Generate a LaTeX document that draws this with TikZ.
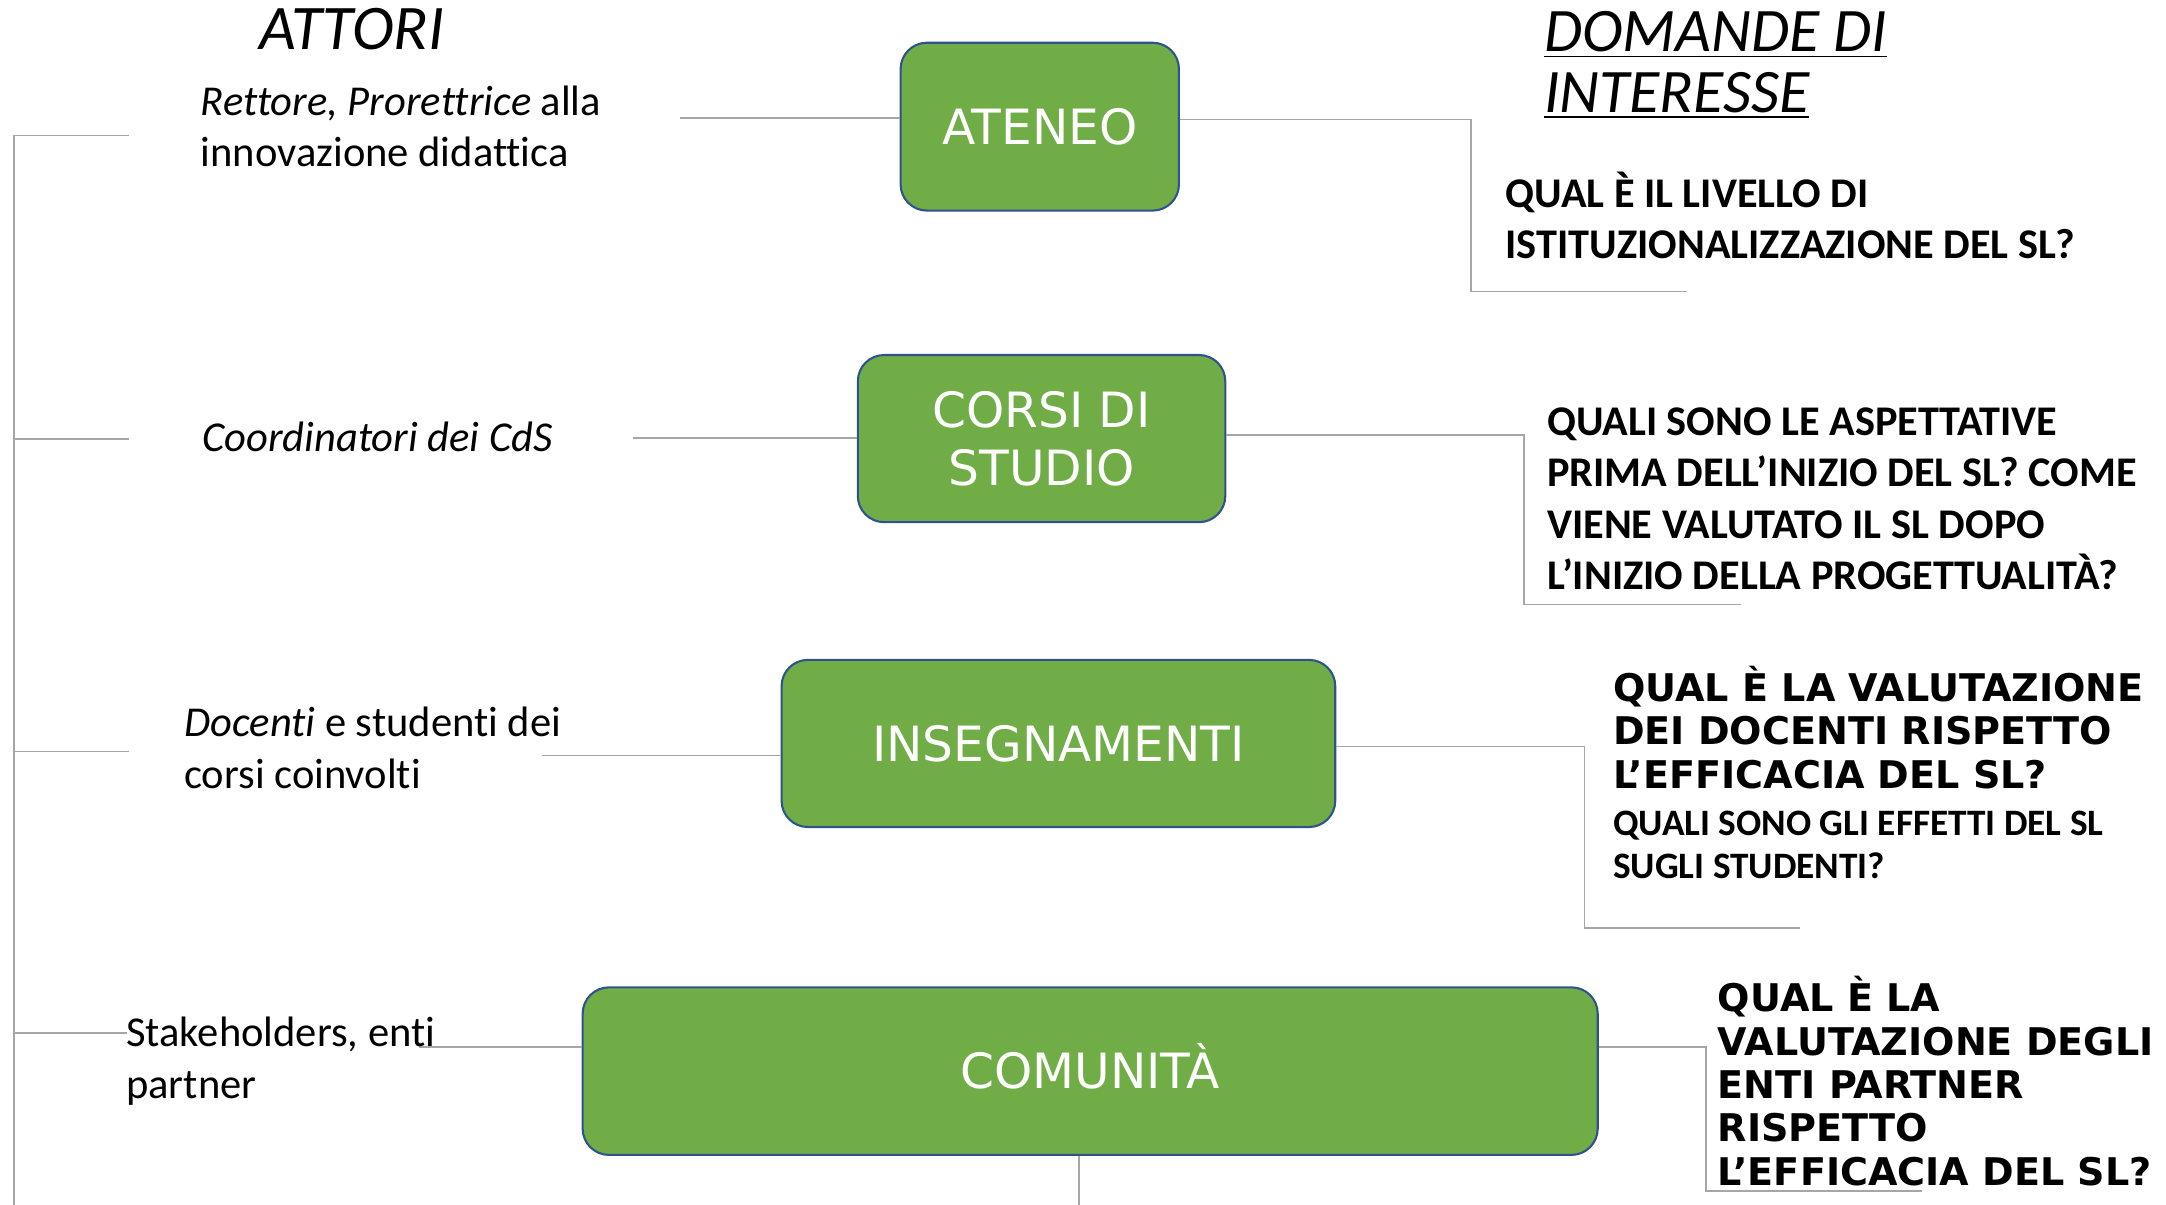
\documentclass[tikz,border=0pt]{standalone}
\usepackage{fontspec}
\setmainfont{Carlito}[Ligatures={NoCommon}]
\newfontfamily\boxfont{DejaVu Sans}
\definecolor{boxgreen}{HTML}{70AD47}
\definecolor{boxblue}{HTML}{2F528F}
\definecolor{linkgray}{HTML}{A6A6A6}
\begin{document}
\begin{tikzpicture}[x=0.5pt,y=-0.5pt,
    tierbox/.style={draw=boxblue,line width=0.75pt,fill=boxgreen,rounded corners=9.5pt,
      inner sep=0pt,text=white,align=center,font=\boxfont\fontsize{17.6pt}{21pt}\selectfont},
    colhead/.style={anchor=base west,inner sep=0pt,align=left,font=\itshape\fontsize{23pt}{22pt}\selectfont},
    actor/.style={anchor=base west,inner sep=0pt,align=left,font=\fontsize{15.4pt}{18.6pt}\selectfont},
    ask/.style={anchor=base west,inner sep=0pt,align=left,font=\bfseries\fontsize{15.3pt}{18.5pt}\selectfont},
    askbig/.style={anchor=base west,inner sep=0pt,align=left,font=\boxfont\bfseries\fontsize{13.8pt}{15.7pt}\selectfont},
    asksmall/.style={anchor=base west,inner sep=0pt,align=left,font=\bfseries\fontsize{13.5pt}{15.7pt}\selectfont},
    wire/.style={draw=linkgray,line width=0.6pt}]
  \useasboundingbox (0,0) rectangle (1568,872);

  \node[tierbox,minimum width=100.75pt,minimum height=60.75pt,text height=12.8pt,text depth=0pt] (ateneo) at (752.7,91.7) {ATENEO};
  \node[tierbox,minimum width=133pt,minimum height=60.5pt] (corsi) at (754,317.5) {CORSI DI\\STUDIO};
  \node[tierbox,minimum width=200.4pt,minimum height=60.5pt,text height=12.8pt,text depth=0pt] (insegn) at (766.2,538.2) {INSEGNAMENTI};
  \node[tierbox,minimum width=367.4pt,minimum height=60.65pt,text height=12.8pt,text depth=0pt] (comun) at (789.2,775.4) {COMUNITÀ};

  \coordinate (spinebot) at (10,872);
  \coordinate (t1) at (93.7,98);
  \coordinate (t2) at (93.7,318);
  \coordinate (t3) at (93.7,544);
  \coordinate (t4) at (92,748);
  \coordinate (s1) at (492,85.5);
  \coordinate (s2) at (458,317);
  \coordinate (s3) at (392,547);
  \coordinate (s4) at (303,758);
  \coordinate (k1) at (1065,86.5);
  \coordinate (e1) at (1221,211);
  \coordinate (k2) at (1103,315);
  \coordinate (e2) at (1260,437.5);
  \coordinate (k3) at (1147,540.5);
  \coordinate (e3) at (1303,672);
  \coordinate (k4) at (1235,758);
  \coordinate (e4) at (1391,862);
  \coordinate (b1) at (781,872);

  \draw[wire] (t1) -| (spinebot);
  \foreach \t in {t2,t3,t4}
    \draw[wire] (\t -| spinebot) -- (\t);
  \foreach \s/\b in {s1/ateneo,s2/corsi,s3/insegn,s4/comun}
    \draw[wire] (\s) -- (\s -| \b.west);
  \foreach \k/\e/\b in {k1/e1/ateneo,k2/e2/corsi,k3/e3/insegn,k4/e4/comun}
    \draw[wire] (\k -| \b.east) -- (\k) |- (\e);
  \draw[wire] (b1 |- comun.south) -- (b1);

  \node[colhead] (hatt) at (187.5,36) {ATTORI};
  \node[colhead,font=\itshape\fontsize{22.4pt}{22pt}\selectfont] (hdom) at (1117.4,81.6) {\underline{DOMANDE DI}\\\underline{INTERESSE}};

  \node[actor] (rett) at (145,120.5) {\textit{Rettore, Prorettrice} alla\\innovazione didattica};
  \node[actor] (coord) at (146,327) {\textit{Coordinatori dei CdS}};
  \node[actor] (doc) at (133,570.5) {\textit{Docenti} e studenti dei\\corsi coinvolti};
  \node[actor] (stak) at (91,795) {Stakeholders, enti\\partner};

  \node[ask] (q1) at (1089.5,187) {QUAL È IL LIVELLO DI\\ISTITUZIONALIZZAZIONE DEL SL?};
  \node[ask] (q2) at (1119.6,426.5) {QUALI SONO LE ASPETTATIVE\\PRIMA DELL’INIZIO DEL SL? COME\\VIENE VALUTATO IL SL DOPO\\L’INIZIO DELLA PROGETTUALITÀ?};
  \node[askbig] (q3) at (1167.4,570.5) {QUAL È LA VALUTAZIONE\\DEI DOCENTI RISPETTO\\L’EFFICACIA DEL SL?};
  \node[asksmall] (q3b) at (1167.4,636) {QUALI SONO GLI EFFETTI DEL SL\\SUGLI STUDENTI?};
  \node[askbig] (q4) at (1243.2,858) {QUAL È LA\\VALUTAZIONE DEGLI\\ENTI PARTNER\\RISPETTO\\L’EFFICACIA DEL SL?};
\end{tikzpicture}
\end{document}
